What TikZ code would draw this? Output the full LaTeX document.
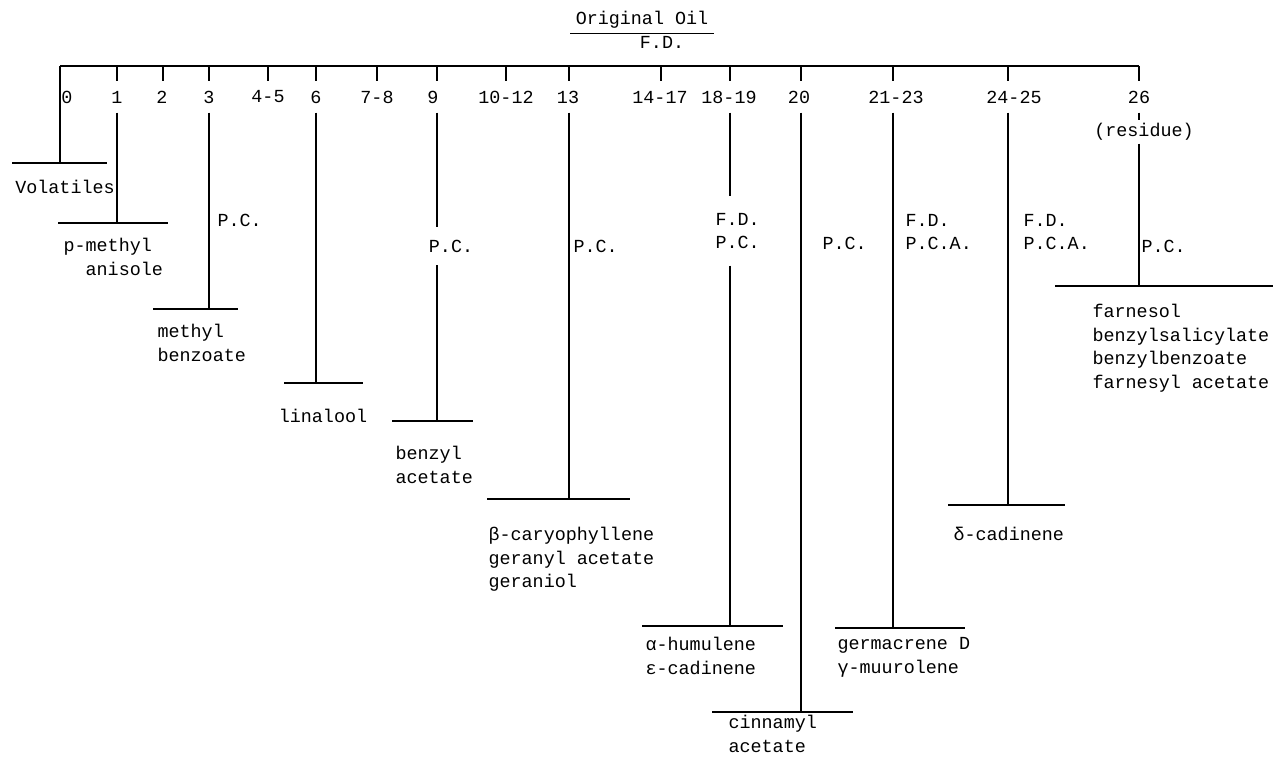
\documentclass[tikz,border=0pt]{standalone}
\usepackage{fontspec}
\setmonofont{Liberation Mono}
\usetikzlibrary{positioning}

\begin{document}
\begin{tikzpicture}[
    x=1pt, y=-1pt,
    line width=1.1pt,
    every node/.style={font=\ttfamily\fontsize{18.4}{23.5}\selectfont, inner sep=0pt},
    frac/.style={minimum height=30pt},
    meth/.style={align=left, anchor=west},
    prod/.style={align=left, anchor=north west}
  ]
  \useasboundingbox (0,0) rectangle (1279,762);

  \node (title) at (642,20) {Original Oil};
  \draw ([xshift=-5pt,yshift=-4pt]title.south west) -- ([xshift=5pt,yshift=-4pt]title.south east);
  \node (fd) at (662,42) {F.D.};

  % fractions on the main line
  \coordinate (t0) at (60,66);
  \coordinate (t1) at (117,66);
  \coordinate (t2) at (163,66);
  \coordinate (t3) at (209,66);
  \coordinate (t4) at (268,66);
  \coordinate (t6) at (316,66);
  \coordinate (t7) at (377,66);
  \coordinate (t9) at (437,66);
  \coordinate (t10) at (506,66);
  \coordinate (t13) at (569,66);
  \coordinate (t14) at (661,66);
  \coordinate (t18) at (730,66);
  \coordinate (t20) at (801,66);
  \coordinate (t21) at (893,66);
  \coordinate (t24) at (1008,66);
  \coordinate (t26) at (1139,66);

  \node[frac] (f0) at (67,97) {0};
  \node[frac] (f1) at (117,97) {1};
  \node[frac] (f2) at (162,97) {2};
  \node[frac] (f3) at (209,97) {3};
  \node[frac] (f4) at (268,97) {4-5};
  \node[frac] (f6) at (316,97) {6};
  \node[frac] (f7) at (377,97) {7-8};
  \node[frac] (f9) at (433,97) {9};
  \node[frac] (f10) at (506,97) {10-12};
  \node[frac] (f13) at (568,97) {13};
  \node[frac] (f14) at (660,97) {14-17};
  \node[frac] (f18) at (729,97) {18-19};
  \node[frac] (f20) at (799,97) {20};
  \node[frac] (f21) at (896,97) {21-23};
  \node[frac] (f24) at (1014,97) {24-25};
  \node[frac] (f26) at (1139,97) {26};
  \node[minimum height=22pt] (res) at (1144,132) {(residue)};

  % separation methods
  \node[meth] (pc3) at (217,220) {P.C.};
  \node[minimum height=37pt] (pc9) at (451,246) {P.C.};
  \node[meth] (pc13) at (573,246) {P.C.};
  \node[meth, minimum height=68pt] (pc18) at (715,231) {F.D.\\P.C.};
  \node[meth] (pc20) at (822,243) {P.C.};
  \node[meth] (pc21) at (905,232) {F.D.\\P.C.A.};
  \node[meth] (pc24) at (1023,232) {F.D.\\P.C.A.};
  \node[meth] (pc26) at (1141,246) {P.C.};

  % junctions on the bars
  \coordinate (j0) at (60,163);
  \coordinate (j1) at (117,223);
  \coordinate (j3) at (209,309);
  \coordinate (j6) at (316,383);
  \coordinate (j9) at (437,421);
  \coordinate (j13) at (569,499);
  \coordinate (j18) at (730,626);
  \coordinate (j20) at (801,712);
  \coordinate (j21) at (893,628);
  \coordinate (j24) at (1008,505);
  \coordinate (j26) at (1139,286);

  \draw (t0) -- (t26);

  \draw (t1) -- (t1 |- f1.north);
  \draw (t2) -- (t2 |- f2.north);
  \draw (t3) -- (t3 |- f3.north);
  \draw (t4) -- (t4 |- f4.north);
  \draw (t6) -- (t6 |- f6.north);
  \draw (t7) -- (t7 |- f7.north);
  \draw (t9) -- (t9 |- f9.north);
  \draw (t10) -- (t10 |- f10.north);
  \draw (t13) -- (t13 |- f13.north);
  \draw (t14) -- (t14 |- f14.north);
  \draw (t18) -- (t18 |- f18.north);
  \draw (t20) -- (t20 |- f20.north);
  \draw (t21) -- (t21 |- f21.north);
  \draw (t24) -- (t24 |- f24.north);
  \draw (t26) -- (f26.north);

  \draw (t0) -- (j0);
  \draw (t1 |- f1.south) -- (j1);
  \draw (t3 |- f3.south) -- (j3);
  \draw (t6 |- f6.south) -- (j6);
  \draw (t9 |- f9.south) -- (t9 |- pc9.north);
  \draw (t9 |- pc9.south) -- (j9);
  \draw (t13 |- f13.south) -- (j13);
  \draw (t18 |- f18.south) -- (t18 |- pc18.north);
  \draw (t18 |- pc18.south) -- (j18);
  \draw (t20 |- f20.south) -- (j20);
  \draw (t21 |- f21.south) -- (j21);
  \draw (t24 |- f24.south) -- (j24);
  \draw (f26.south) -- (t26 |- res.north);
  \draw (t26 |- res.south) -- (j26);

  \draw ([xshift=-48pt]j0) -- ([xshift=47pt]j0);
  \draw ([xshift=-59pt]j1) -- ([xshift=51pt]j1);
  \draw ([xshift=-56pt]j3) -- ([xshift=29pt]j3);
  \draw ([xshift=-32pt]j6) -- ([xshift=47pt]j6);
  \draw ([xshift=-45pt]j9) -- ([xshift=36pt]j9);
  \draw ([xshift=-82pt]j13) -- ([xshift=61pt]j13);
  \draw ([xshift=-88pt]j18) -- ([xshift=53pt]j18);
  \draw ([xshift=-89pt]j20) -- ([xshift=52pt]j20);
  \draw ([xshift=-58pt]j21) -- ([xshift=72pt]j21);
  \draw ([xshift=-60pt]j24) -- ([xshift=57pt]j24);
  \draw ([xshift=-84pt]j26) -- ([xshift=134pt]j26);

  % products
  \node[fill=white] (vol) at (65,187) {Volatiles};
  \node[prod] (anis) at (63,238) {p-methyl\\\ \ anisole};
  \node[prod] (mebz) at (157,324) {methyl\\benzoate};
  \node (lin) at (323,416) {linalool};
  \node[prod] (bzac) at (395,446) {benzyl\\acetate};
  \node[prod] (cary) at (488,527) {β-caryophyllene\\geranyl acetate\\geraniol};
  \node[prod] (hum) at (645,637) {α-humulene\\ε-cadinene};
  \node[prod] (cinn) at (728,715) {cinnamyl\\acetate};
  \node[prod] (germ) at (837,637) {germacrene D\\γ-muurolene};
  \node[prod] (cad) at (953,527) {δ-cadinene};
  \node[prod] (farn) at (1092,304) {farnesol\\benzylsalicylate\\benzylbenzoate\\farnesyl acetate};
\end{tikzpicture}
\end{document}
